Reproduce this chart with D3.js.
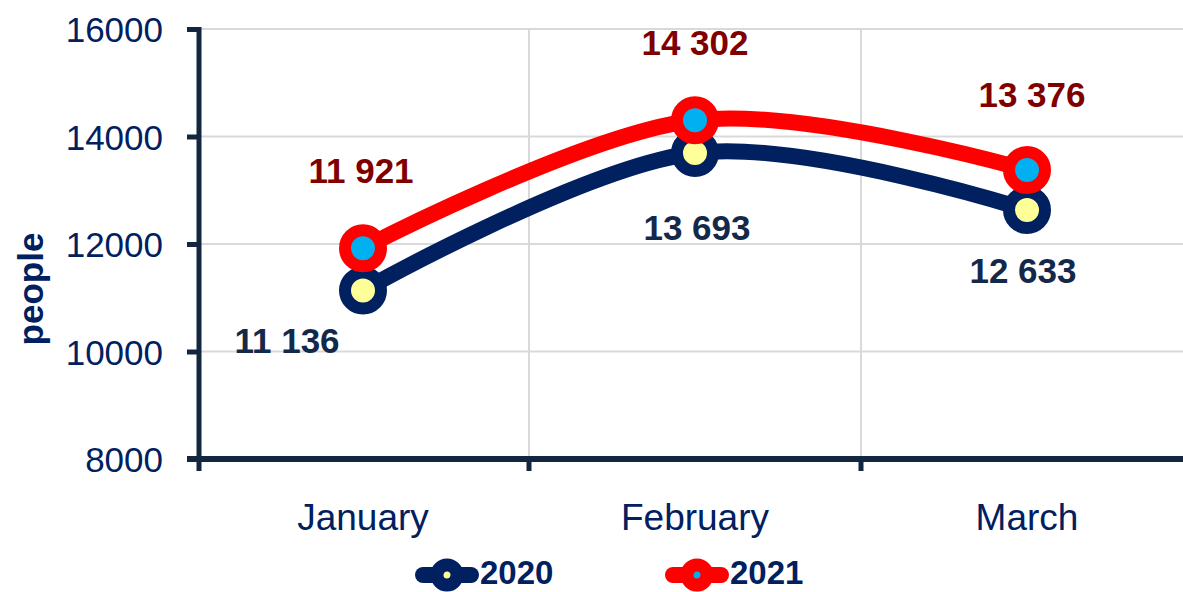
<!DOCTYPE html>
<html>
<head>
<meta charset="utf-8">
<script src="https://cdn.jsdelivr.net/npm/d3@7"></script>
<style>
  body { margin: 0; background: #fff; }
  text { font-family: "Liberation Sans", Arial, sans-serif; }
</style>
</head>
<body>
<script>
// chart data
var months = ["January", "February", "March"];
var seriesNames = ["2020", "2021"];
var values2020 = [11136, 13693, 12633];
var values2021 = [11921, 14302, 13376];
var yTicks = [8000, 10000, 12000, 14000, 16000];

var svgWidth = 1183;
var svgHeight = 592;

var svg = d3.select("body")
  .append("svg")
  .attr("width", svgWidth)
  .attr("height", svgHeight);

// plot area (runs a little past the right edge, like the original)
var plot = { left: 197, right: 1193, top: 29, bottom: 459 };

var xScale = d3.scaleBand()
  .domain(months)
  .range([plot.left, plot.right]);

var yScale = d3.scaleLinear()
  .domain([8000, 16000])
  .range([plot.bottom, plot.top]);

var navy = "#002060";
var axisColor = "#12263f";

// gridlines
svg.append("g")
  .selectAll("line")
  .data(yTicks.slice(1))
  .enter()
  .append("line")
  .attr("x1", plot.left)
  .attr("x2", plot.right)
  .attr("y1", d => yScale(d))
  .attr("y2", d => yScale(d))
  .attr("stroke", "#d9d9d9")
  .attr("stroke-width", 2);

svg.append("g")
  .selectAll("line")
  .data(months.slice(1))
  .enter()
  .append("line")
  .attr("x1", d => xScale(d))
  .attr("x2", d => xScale(d))
  .attr("y1", plot.top)
  .attr("y2", plot.bottom)
  .attr("stroke", "#d9d9d9")
  .attr("stroke-width", 2);

// y axis
var leftAxis = d3.axisLeft(yScale)
  .tickValues(yTicks)
  .tickSize(12)
  .tickPadding(24)
  .tickFormat(d3.format("d"));

var yAxis = svg.append("g")
  .attr("transform", `translate(${plot.left + 2}, 0)`)
  .call(leftAxis);

yAxis.select(".domain")
  .attr("d", `M0,${plot.top - 2}V${plot.bottom + 12}`)
  .attr("stroke", axisColor)
  .attr("stroke-width", 5);
yAxis.selectAll(".tick line")
  .attr("stroke", axisColor)
  .attr("stroke-width", 5);
yAxis.selectAll(".tick text")
  .attr("fill", navy)
  .attr("font-size", 35)
  .attr("dy", "0.36em");

// x axis
var bottomAxis = d3.axisBottom(xScale)
  .tickSize(0)
  .tickPadding(45);

var xAxis = svg.append("g")
  .attr("transform", `translate(0, ${plot.bottom})`)
  .call(bottomAxis);

xAxis.select(".domain")
  .attr("d", `M${plot.left - 10},0H${svgWidth + 20}`)
  .attr("stroke", axisColor)
  .attr("stroke-width", 6);
xAxis.selectAll(".tick text")
  .attr("fill", navy)
  .attr("font-size", 37)
  .attr("dy", "0.7em");

// x tick marks on the category boundaries
xAxis.selectAll(".boundary")
  .data(months.slice(1))
  .enter()
  .append("line")
  .attr("x1", d => xScale(d))
  .attr("x2", d => xScale(d))
  .attr("y1", 0)
  .attr("y2", 12)
  .attr("stroke", axisColor)
  .attr("stroke-width", 5);

// y axis title
svg.append("text")
  .attr("transform", "translate(43, 289) rotate(-90)")
  .attr("text-anchor", "middle")
  .attr("font-size", 35)
  .attr("font-weight", "bold")
  .attr("fill", navy)
  .text("people");

// lines
var line = d3.line()
  .x((d, i) => xScale(months[i]) + xScale.bandwidth() / 2)
  .y(d => yScale(d))
  .curve(d3.curveCardinal.tension(0));

var series = [
  { name: seriesNames[0], values: values2020, stroke: navy, fill: "#ffff99", label: "#14294a",
    offsets: [[-76, 63], [2, 87], [-4, 73]] },
  { name: seriesNames[1], values: values2021, stroke: "#ff0000", fill: "#00b0f0", label: "#800000",
    offsets: [[-2, -65], [0, -65], [5, -63]] }
];

series.forEach(function(s) {
  svg.append("path")
    .datum(s.values)
    .attr("d", line)
    .attr("fill", "none")
    .attr("stroke", s.stroke)
    .attr("stroke-width", 16)
    .attr("stroke-linecap", "round");

  svg.append("g")
    .selectAll("circle")
    .data(s.values)
    .enter()
    .append("circle")
    .attr("cx", (d, i) => xScale(months[i]) + xScale.bandwidth() / 2)
    .attr("cy", d => yScale(d))
    .attr("r", 18)
    .attr("fill", s.fill)
    .attr("stroke", s.stroke)
    .attr("stroke-width", 12);
});

// data labels
series.forEach(function(s) {
  svg.append("g")
    .selectAll("text")
    .data(s.values)
    .enter()
    .append("text")
    .attr("x", (d, i) => xScale(months[i]) + xScale.bandwidth() / 2 + s.offsets[i][0])
    .attr("y", (d, i) => yScale(d) + s.offsets[i][1])
    .attr("text-anchor", "middle")
    .attr("font-size", 35)
    .attr("font-weight", "bold")
    .attr("fill", s.label)
    .text(d => d3.format(",")(d).replace(",", " "));
});

// legend
var legendX = [415, 665];
series.forEach(function(s, i) {
  var g = svg.append("g")
    .attr("transform", `translate(${legendX[i]}, 575)`);
  g.append("line")
    .attr("x1", 8)
    .attr("x2", 56)
    .attr("y1", 0)
    .attr("y2", 0)
    .attr("stroke", s.stroke)
    .attr("stroke-width", 16)
    .attr("stroke-linecap", "round");
  g.append("circle")
    .attr("cx", 32)
    .attr("cy", 0)
    .attr("r", 10)
    .attr("fill", s.fill)
    .attr("stroke", s.stroke)
    .attr("stroke-width", 13);
  g.append("text")
    .attr("x", 65)
    .attr("y", 9)
    .attr("font-size", 33)
    .attr("font-weight", "bold")
    .attr("fill", navy)
    .text(s.name);
});
</script>
</body>
</html>
